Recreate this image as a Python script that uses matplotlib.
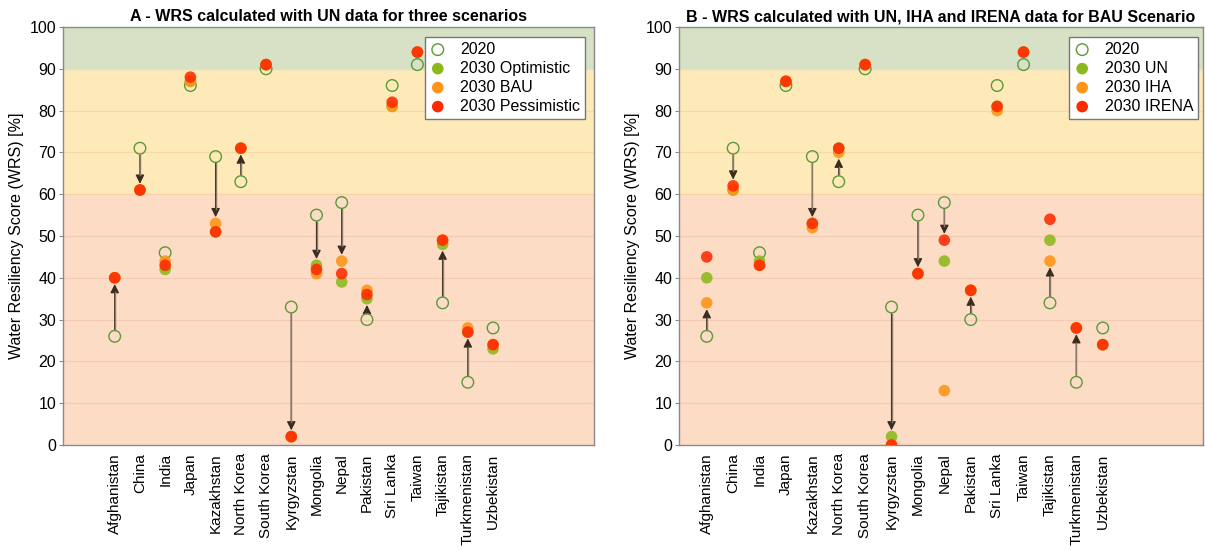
import matplotlib
matplotlib.use("Agg")
import matplotlib.pyplot as plt
import numpy as np

plt.rcParams['font.family'] = ['Liberation Sans', 'DejaVu Sans']

countries = ["Afghanistan", "China", "India", "Japan", "Kazakhstan", "North Korea",
             "South Korea", "Kyrgyzstan", "Mongolia", "Nepal", "Pakistan", "Sri Lanka",
             "Taiwan", "Tajikistan", "Turkmenistan", "Uzbekistan"]

wrs_2020 = [26, 71, 46, 86, 69, 63, 90, 33, 55, 58, 30, 86, 91, 34, 15, 28]

# Panel A - UN data, three scenarios
a_optimistic = [40, 61, 42, 87, 51, 71, 91, 2, 43, 39, 35, 81, 94, 48, 27, 23]
a_bau = [40, 61, 44, 87, 53, 71, 91, 2, 41, 44, 37, 81, 94, 49, 28, 24]
a_pessimistic = [40, 61, 43, 88, 51, 71, 91, 2, 42, 41, 36, 82, 94, 49, 27, 24]

# Panel B - BAU scenario, three data sources
b_un = [40, 61, 44, 87, 53, 71, 91, 2, 41, 44, 37, 81, 94, 49, 28, 24]
b_iha = [34, 61, 43, 87, 52, 70, 91, 0, 41, 13, 37, 80, 94, 44, 28, 24]
b_irena = [45, 62, 43, 87, 53, 71, 91, 0, 41, 49, 37, 81, 94, 54, 28, 24]

arrow_countries = ["Afghanistan", "China", "Kazakhstan", "North Korea", "Kyrgyzstan",
                   "Mongolia", "Nepal", "Pakistan", "Tajikistan", "Turkmenistan"]

C2020 = "#5a9a3a"
CGREEN = "#8cb81c"
CORANGE = "#ff9416"
CRED = "#ff2a00"

fig = plt.figure(figsize=(12.05, 5.51), dpi=100)
axA = fig.add_axes([0.0523, 0.1924, 0.4406, 0.7586])
axB = fig.add_axes([0.5635, 0.1924, 0.4349, 0.7586])


def draw(ax, series, labels, title, xlim, leg_right):
    x = np.arange(len(countries))
    ax.axhspan(0, 60, color="#fddcc6", zorder=0)
    ax.axhspan(60, 90, color="#feeab9", zorder=0)
    ax.axhspan(90, 100, color="#d7e1c6", zorder=0)
    for yv in range(10, 100, 10):
        if yv in (60, 90):
            continue
        c = "#f3cbb2" if yv < 60 else "#f6d9a6"
        ax.axhline(yv, color=c, lw=0.9, zorder=0.5)
    ax.axhline(60, color="#fbd0a6", lw=0.9, zorder=0.5)
    ax.axhline(90, color="#f4dcb0", lw=0.9, zorder=0.5)

    # arrows from 2020 value to nearest 2030 value
    for name in arrow_countries:
        i = countries.index(name)
        v0 = wrs_2020[i]
        vals = [s[i] for s in series]
        if min(vals) > v0:
            tgt = min(vals)
            y0, y1 = v0 + 1.6, tgt - 1.5
        else:
            tgt = max(vals)
            y0, y1 = v0 - 1.6, tgt + 1.5
        ax.annotate("", xy=(x[i], y1), xytext=(x[i], y0),
                    arrowprops=dict(arrowstyle="-|>", color="#3a2c1e", lw=0.9,
                                    mutation_scale=13, shrinkA=0, shrinkB=0),
                    zorder=2)
        d = np.sign(y1 - y0)
        if abs(y1 - y0) > 3:
            ax.plot([x[i], x[i]], [y0, y1 - d * 2], color="#8a7a6a", lw=1.0, zorder=2.1)

    ax.scatter(x, wrs_2020, s=70, facecolors="none", edgecolors=C2020, linewidths=1.0,
               zorder=3, label="2020")
    cols = [CGREEN, CORANGE, CRED]
    for s, c, lab in zip(series, cols, labels):
        ax.scatter(x, s, s=70, color=c, edgecolors="none", alpha=0.88, zorder=4, label=lab)

    ax.set_xlim(*xlim)
    ax.set_ylim(0, 100)
    ax.set_yticks(range(0, 101, 10))
    ax.set_xticks(x)
    ax.set_xticklabels(countries, rotation=90, fontsize=11)
    ax.tick_params(axis="x", length=0, pad=6)
    ax.tick_params(axis="y", length=3, labelsize=11.5, color="#888888", pad=2)
    for sp in ax.spines.values():
        sp.set_color("#8a8a8a")
        sp.set_linewidth(1.0)
    ax.set_ylabel("Water Resiliency Score (WRS) [%]", fontsize=11.5, labelpad=4)
    ax.set_title(title, fontsize=11.5, fontweight="bold", pad=4)
    leg = ax.legend(loc="upper right", fontsize=11.5, frameon=True, fancybox=False,
                    framealpha=1, edgecolor="#777777", borderpad=0.3, labelspacing=0.25,
                    handlelength=1.0, handletextpad=0.9, borderaxespad=0,
                    bbox_to_anchor=(leg_right, 0.976))
    leg.get_frame().set_linewidth(1.0)
    leg.set_zorder(10)
    for h in leg.legend_handles:
        h.set_alpha(1)


draw(axA, [a_optimistic, a_bau, a_pessimistic],
     ["2030 Optimistic", "2030 BAU", "2030 Pessimistic"],
     "A - WRS calculated with UN data for three scenarios", (-2.05, 19.0), 0.983)
draw(axB, [b_un, b_iha, b_irena],
     ["2030 UN", "2030 IHA", "2030 IRENA"],
     "B - WRS calculated with UN, IHA and IRENA data for BAU Scenario", (-1.05, 18.8), 0.99)

fig.savefig("out.png", dpi=100, facecolor="white")
